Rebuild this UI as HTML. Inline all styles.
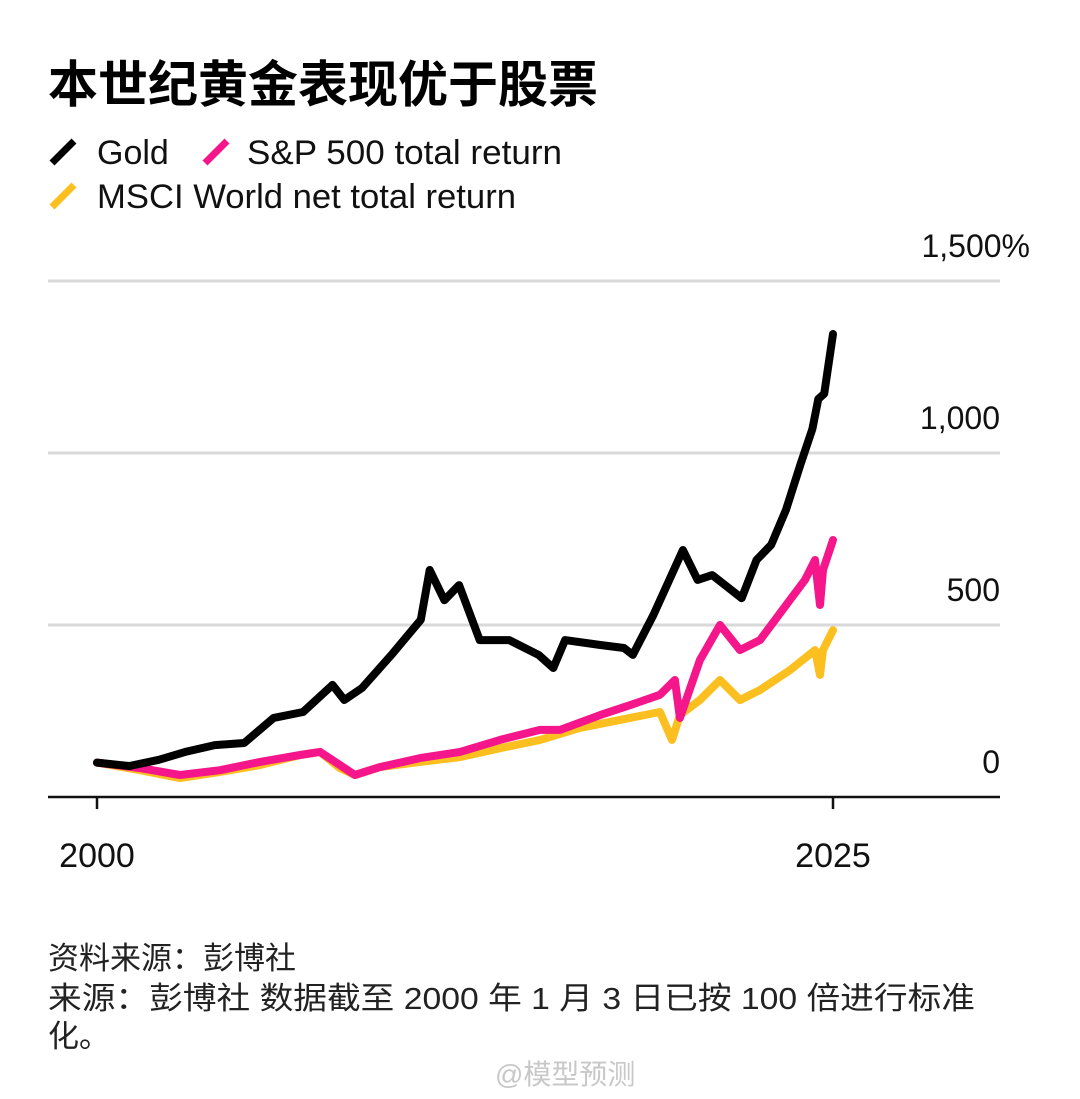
<!DOCTYPE html>
<html><head><meta charset="utf-8"><style>
body{margin:0;background:#fff;width:1080px;height:1099px;overflow:hidden;font-family:"Liberation Sans","Noto Sans CJK SC",sans-serif;}
svg{position:absolute;left:0;top:0}
</style></head><body>
<svg id="chart" width="1080" height="1099" viewBox="0 0 1080 1099">
<text x="48" y="102" font-size="50" font-weight="bold" fill="#000" font-family="Liberation Sans, Noto Sans CJK SC, sans-serif">本世纪黄金表现优于股票</text>
<g font-size="34" fill="#111">
<line x1="52" y1="163" x2="74" y2="141" stroke="#000" stroke-width="7"/>
<text x="97" y="164">Gold</text>
<line x1="205" y1="163" x2="227" y2="141" stroke="#f5168c" stroke-width="7"/>
<text x="247" y="164" textLength="315" lengthAdjust="spacingAndGlyphs">S&amp;P 500 total return</text>
<line x1="52" y1="207" x2="74" y2="185" stroke="#fbbf1f" stroke-width="7"/>
<text x="97" y="208" textLength="419" lengthAdjust="spacingAndGlyphs">MSCI World net total return</text>
</g>
<g id="grid"></g>
<g id="series"></g>
<g id="axes"></g>
<g font-size="31" fill="#222">
<text x="48" y="969">资料来源：彭博社</text>
<text x="48" y="1009" textLength="927" lengthAdjust="spacingAndGlyphs">来源：彭博社 数据截至 2000 年 1 月 3 日已按 100 倍进行标准</text>
<text x="48" y="1047">化。</text>
</g>
<text x="495" y="1084" font-size="28" fill="#c8c8c8">@模型预测</text>
</svg>
<script>
const yTicks=[0,500,1000,1500];
const yTickLabels=["0","500","1,000","1,500%"];
const xTicks=[2000,2025];
const xTickLabels=["2000","2025"];
const goldYears=[2000,2001.1,2002.1,2003.0,2004.0,2005.0,2006.0,2007.0,2008.0,2008.4,2009.0,2010.0,2011.0,2011.3,2011.8,2012.3,2013.0,2014.0,2015.0,2015.5,2015.9,2017.1,2017.9,2018.2,2018.9,2019.9,2020.4,2020.9,2021.9,2022.4,2022.9,2023.4,2023.9,2024.3,2024.5,2024.7,2025.0];
const goldValues=[100,90,108,131,151,157,230,247,326,282,317,413,515,660,572,616,456,456,413,375,456,442,433,413,529,718,631,645,578,689,733,834,968,1070,1157,1172,1346];
const spYears=[2000,2001.46,2002.82,2004.18,2005.54,2006.9,2007.57,2008.25,2008.76,2009.61,2010.97,2012.33,2013.69,2015.05,2015.73,2017.09,2018.1,2019.12,2019.63,2019.8,2020.48,2021.16,2021.84,2022.52,2023.54,2024.05,2024.39,2024.56,2024.66,2025];
const spValues=[100,84,64,78,102,122,131,93,64,87,113,131,166,195,195,238,267,297,340,230,398,500,427,456,573,631,689,558,660,747];
const msciYears=[2000,2001.46,2002.82,2004.18,2005.54,2006.9,2007.57,2008.25,2008.76,2009.61,2010.97,2012.33,2013.69,2015.05,2016.4,2017.77,2019.12,2019.53,2019.8,2020.48,2021.16,2021.84,2022.52,2023.54,2024.39,2024.56,2024.66,2025];
const msciValues=[100,78,55,73,93,122,131,84,64,87,102,116,142,166,201,224,247,166,238,282,340,282,311,369,427,355,427,485];

const NS="http://www.w3.org/2000/svg";
const xS=y=>97+(y-2000)*(833-97)/25;
const yS=v=>797-v*0.344;
function mk(tag,attrs,parent){const e=document.createElementNS(NS,tag);for(const k in attrs)e.setAttribute(k,attrs[k]);parent.appendChild(e);return e;}
const grid=document.getElementById('grid'),series=document.getElementById('series'),axes=document.getElementById('axes');
yTicks.forEach((t,i)=>{
  if(t>0){const l=mk('line',{x1:48,x2:1000,y1:yS(t),y2:yS(t),stroke:'#d9d9d9','stroke-width':3},grid);
  
  }
  const tx=mk('text',{x:t===1500?1030:1000,y:yS(t)-24,'text-anchor':'end','font-size':32,fill:'#111'},grid);
  tx.textContent=yTickLabels[i];
  
  
});
function drawLine(xs,vs,color,name){
  const d=xs.map((x,i)=>(i?'L':'M')+xS(x).toFixed(1)+','+yS(vs[i]).toFixed(1)).join(' ');
  const p=mk('path',{d:d,fill:'none',stroke:color,'stroke-width':8,'stroke-linejoin':'round','stroke-linecap':'round'},series);
  
  
}
drawLine(msciYears,msciValues,'#fbbf1f','msci-line');
drawLine(spYears,spValues,'#f5168c','sp500-line');
drawLine(goldYears,goldValues,'#000','gold-line');
const ax=mk('line',{x1:48,x2:1000,y1:797,y2:797,stroke:'#111','stroke-width':2.5},axes);


xTicks.forEach((t,i)=>{
  const tk=mk('line',{x1:xS(t),x2:xS(t),y1:797,y2:809,stroke:'#111','stroke-width':2.5},axes);
  
  
  const tx=mk('text',{x:xS(t),y:867,'text-anchor':'middle','font-size':34,fill:'#111'},axes);
  tx.textContent=xTickLabels[i];
  
  
});
</script>
</body></html>
